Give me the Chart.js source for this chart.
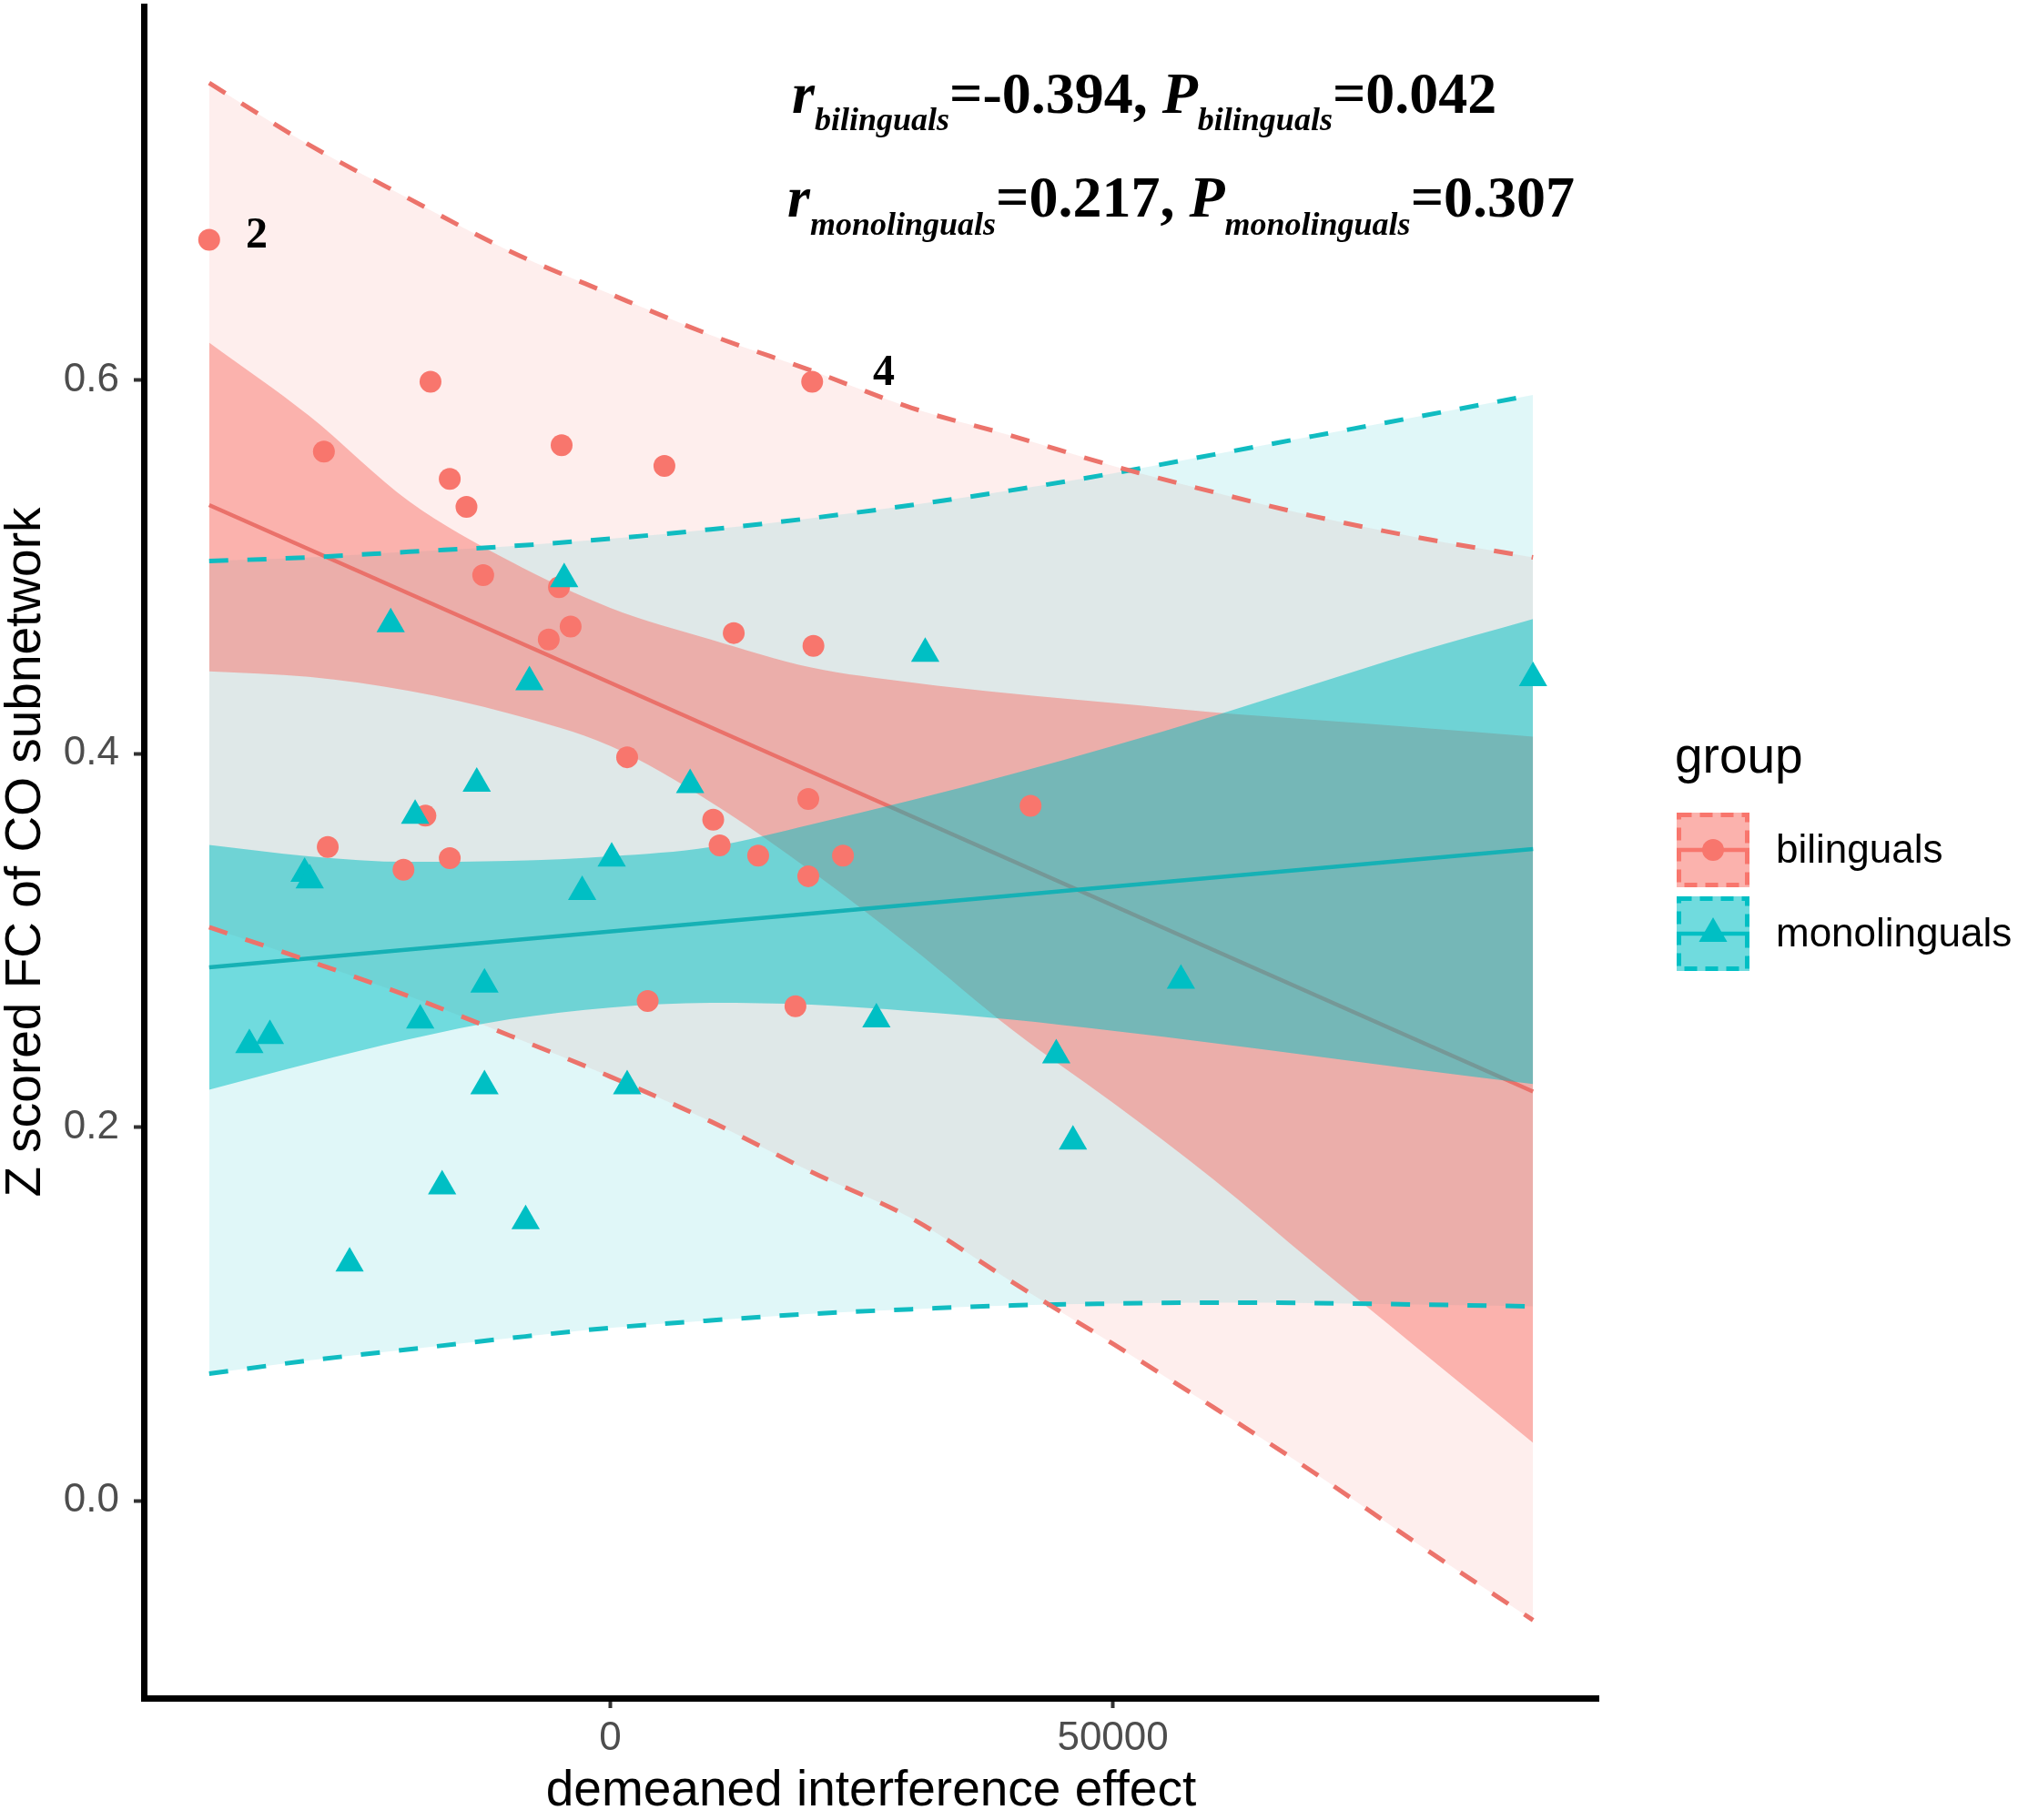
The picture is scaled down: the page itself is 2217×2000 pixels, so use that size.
<!DOCTYPE html>
<html>
<head>
<meta charset="utf-8">
<script src="https://cdn.jsdelivr.net/npm/chart.js@4.4.1/dist/chart.umd.min.js"></script>
<style>
html, body { margin: 0; padding: 0; background: #fff; }
canvas { display: block; }
</style>
</head>
<body>
<canvas id="fcChart" width="2217" height="2000"></canvas>
<script>
const xGrid = [-39900, -30000, -20000, -10000, 0, 10000, 20000, 30000, 40000, 50000, 60000, 70000, 80000, 91800];

// bilinguals: fit line, confidence band, prediction band (dashed)
const biFitX = [-39900, 91800];
const biFitY = [0.533, 0.219];
const biCiUpper = [0.620, 0.581, 0.535, 0.503, 0.478, 0.461, 0.446, 0.438, 0.432, 0.427, 0.422, 0.418, 0.414, 0.409];
const biCiLower = [0.444, 0.441, 0.4335, 0.4213, 0.404, 0.374, 0.337, 0.296, 0.252, 0.213, 0.172, 0.127, 0.083, 0.031];
const biPiUpper = [0.759, 0.726, 0.697, 0.669, 0.646, 0.624, 0.605, 0.585, 0.570, 0.554, 0.540, 0.527, 0.516, 0.505];
const biPiLower = [0.307, 0.289, 0.270, 0.249, 0.227, 0.203, 0.176, 0.151, 0.117, 0.084, 0.050, 0.015, -0.022, -0.064];

// monolinguals
const monoFitX = [-39900, 91800];
const monoFitY = [0.2855, 0.3488];
const monoCiUpper = [0.351, 0.345, 0.342, 0.3425, 0.345, 0.350, 0.362, 0.375, 0.389, 0.404, 0.420, 0.437, 0.454, 0.472];
const monoCiLower = [0.220, 0.234, 0.247, 0.2577, 0.264, 0.2665, 0.2655, 0.262, 0.2575, 0.2515, 0.245, 0.238, 0.231, 0.223];
const monoPiUpper = [0.503, 0.505, 0.508, 0.511, 0.515, 0.520, 0.526, 0.533, 0.541, 0.550, 0.560, 0.570, 0.580, 0.592];
const monoPiLower = [0.068, 0.075, 0.081, 0.087, 0.0925, 0.0965, 0.100, 0.1025, 0.1045, 0.1055, 0.106, 0.1058, 0.105, 0.104];

// subjects
const biX = [-39900, -17881, -28485, -4836, 5388, -15966, -14302, 20087, -12639, -5098, -3941, -6120, 12286, 20213,
             1681, 19700, 41816, -18388, 10244, -28103, 10884, 14717, 23152, -15966, -20568, 19700, 3724, 18424];
const biY = [0.675, 0.599, 0.5616, 0.565, 0.554, 0.547, 0.532, 0.599, 0.4955, 0.489, 0.468, 0.461, 0.4645, 0.4576,
             0.398, 0.3756, 0.372, 0.3667, 0.3646, 0.350, 0.3508, 0.3453, 0.3453, 0.344, 0.3378, 0.3343, 0.2675, 0.2647];
const monoX = [91800, -4583, -21841, 31333, -8037, -13280, 7946, -19409, 145, -30402, -29895, -2793, 56771,
               -12511, -18903, 26478, -35899, -33856, 44368, -12511, 1681, 46032, -16724, -8417, -25927];
const monoY = [0.4404, 0.4934, 0.4693, 0.4535, 0.4383, 0.3839, 0.3832, 0.3667, 0.3439, 0.3357, 0.3322, 0.326, 0.2785,
               0.2764, 0.2572, 0.2578, 0.244, 0.2489, 0.2385, 0.222, 0.222, 0.1924, 0.1683, 0.1497, 0.127];

const xTicks = [0, 50000];
const yTicks = [0.0, 0.2, 0.4, 0.6];

const RED = '#F8766D';
const TEAL = '#00BFC4';
const SANS = '"Liberation Sans", Arial, sans-serif';
const SERIF = '"Liberation Serif", "Times New Roman", serif';

const pts = (xs, ys) => xs.map((x, i) => ({ x: x, y: ys[i] }));

function band(ys, color, fill) {
    return {
        data: pts(xGrid, ys),
        pointRadius: 0,
        borderWidth: 0,
        borderColor: 'transparent',
        backgroundColor: color,
        cubicInterpolationMode: 'monotone',
        fill: fill
    };
}

function dashed(ys, color) {
    return {
        data: pts(xGrid, ys),
        pointRadius: 0,
        borderWidth: 5,
        borderColor: color,
        borderDash: [21, 21],
        cubicInterpolationMode: 'monotone',
        fill: false
    };
}

function fitLine(xs, ys, color) {
    return { data: pts(xs, ys), pointRadius: 0, borderWidth: 4.5, borderColor: color, fill: false };
}

// rich text: r with subscript, etc.
function drawRich(ctx, x, y, parts) {
    ctx.textAlign = 'left';
    ctx.textBaseline = 'alphabetic';
    ctx.fillStyle = '#000';
    parts.forEach(p => {
        ctx.font = p.font;
        ctx.fillText(p.t, x, y + (p.dy || 0));
        x += ctx.measureText(p.t).width;
    });
}

function drawKey(ctx, x, y, w, h, color, piFill, ciFill, style, radius) {
    ctx.save();
    ctx.fillStyle = piFill;
    ctx.fillRect(x, y, w, h);
    ctx.fillStyle = ciFill;
    ctx.fillRect(x, y, w, h);
    ctx.strokeStyle = color;
    ctx.lineWidth = 5;
    ctx.setLineDash([14, 9]);
    ctx.strokeRect(x + 2.5, y + 2.5, w - 5, h - 5);
    ctx.setLineDash([]);
    ctx.lineWidth = 4.5;
    ctx.beginPath();
    ctx.moveTo(x, y + h / 2);
    ctx.lineTo(x + w, y + h / 2);
    ctx.stroke();
    ctx.fillStyle = color;
    Chart.helpers.drawPoint(ctx, { pointStyle: style, radius: radius, rotation: 0, borderWidth: 0 }, x + w / 2, y + h / 2);
    ctx.restore();
}

const extras = {
    id: 'extras',
    afterDraw(chart) {
        const ctx = chart.ctx;
        ctx.save();
        const big = 'bold 64px ' + SERIF;
        const bigI = 'italic bold 64px ' + SERIF;
        const sub = 'italic bold 36px ' + SERIF;
        drawRich(ctx, 870, 124, [
            { t: 'r', font: bigI }, { t: 'bilinguals', font: sub, dy: 19 },
            { t: '=-0.394, ', font: big },
            { t: 'P', font: bigI }, { t: 'bilinguals', font: sub, dy: 19 },
            { t: '=0.042', font: big }
        ]);
        drawRich(ctx, 865, 238, [
            { t: 'r', font: bigI }, { t: 'monolinguals', font: sub, dy: 20 },
            { t: '=0.217, ', font: big },
            { t: 'P', font: bigI }, { t: 'monolinguals', font: sub, dy: 20 },
            { t: '=0.307', font: big }
        ]);
        ctx.font = 'bold 48px ' + SERIF;
        ctx.fillText('2', 270, 272);
        ctx.fillText('4', 959, 423);

        // legend
        ctx.fillStyle = '#000';
        ctx.font = '55px ' + SANS;
        ctx.fillText('group', 1840, 849);
        drawKey(ctx, 1842, 893, 80, 82, RED, 'rgba(248,118,109,0.12)', 'rgba(248,118,109,0.5)', 'circle', 12);
        drawKey(ctx, 1842, 985, 80, 82, TEAL, 'rgba(0,191,196,0.12)', 'rgba(0,191,196,0.5)', 'triangle', 18);
        ctx.fillStyle = '#000';
        ctx.font = '44px ' + SANS;
        ctx.textBaseline = 'middle';
        ctx.fillText('bilinguals', 1951, 936);
        ctx.fillText('monolinguals', 1951, 1028);
        ctx.restore();
    }
};

new Chart(document.getElementById('fcChart'), {
    type: 'line',
    data: {
        datasets: [
            { data: pts(monoX, monoY), showLine: false, pointStyle: 'triangle', pointRadius: 18,
              pointBackgroundColor: TEAL, pointBorderWidth: 0, pointBorderColor: 'transparent' },
            { data: pts(biX, biY), showLine: false, pointStyle: 'circle', pointRadius: 12,
              pointBackgroundColor: RED, pointBorderWidth: 0, pointBorderColor: 'transparent' },
            dashed(biPiUpper, '#EC736B'),
            dashed(biPiLower, '#EC736B'),
            dashed(monoPiUpper, '#10BCC1'),
            dashed(monoPiLower, '#10BCC1'),
            fitLine(monoFitX, monoFitY, '#16B1B5'),
            band(monoCiUpper, 'rgba(0,191,196,0.5)', '+1'),
            band(monoCiLower, 'transparent', false),
            fitLine(biFitX, biFitY, '#EA716A'),
            band(biCiUpper, 'rgba(248,118,109,0.5)', '+1'),
            band(biCiLower, 'transparent', false),
            band(monoPiUpper, 'rgba(0,191,196,0.12)', '+1'),
            band(monoPiLower, 'transparent', false),
            band(biPiUpper, 'rgba(248,118,109,0.12)', '+1'),
            band(biPiLower, 'transparent', false)
        ]
    },
    options: {
        responsive: false,
        devicePixelRatio: 1,
        animation: false,
        events: [],
        layout: { autoPadding: false, padding: { left: 0, right: 461, top: 7, bottom: 0 } },
        plugins: {
            legend: { display: false },
            tooltip: { enabled: false }
        },
        scales: {
            x: {
                type: 'linear',
                min: -46400,
                max: 98300,
                afterFit(scale) {
                    scale.height = 134;
                    scale.paddingLeft = 0;
                    scale.paddingRight = 0;
                },
                afterBuildTicks(scale) { scale.ticks = xTicks.map(v => ({ value: v })); },
                grid: { display: true, drawOnChartArea: false, drawTicks: true, tickLength: 11, tickWidth: 4, tickColor: '#333333' },
                border: { display: true, color: '#000', width: 7 },
                ticks: {
                    padding: 7,
                    color: '#4D4D4D',
                    font: { family: SANS, size: 44 },
                    callback: v => String(v)
                },
                title: {
                    display: true,
                    text: 'demeaned interference effect',
                    color: '#000',
                    font: { family: SANS, size: 55, lineHeight: 1 },
                    padding: { top: 0, bottom: 4 }
                }
            },
            y: {
                type: 'linear',
                min: -0.1057,
                max: 0.800,
                afterFit(scale) {
                    scale.width = 158;
                    scale.paddingTop = 0;
                    scale.paddingBottom = 0;
                },
                afterBuildTicks(scale) { scale.ticks = yTicks.map(v => ({ value: v })); },
                grid: { display: true, drawOnChartArea: false, drawTicks: true, tickLength: 11, tickWidth: 4, tickColor: '#333333' },
                border: { display: true, color: '#000', width: 7 },
                ticks: {
                    padding: 16,
                    color: '#4D4D4D',
                    font: { family: SANS, size: 44 },
                    callback: v => v.toFixed(1)
                },
                title: {
                    display: true,
                    text: 'Z scored FC of CO subnetwork',
                    color: '#000',
                    font: { family: SANS, size: 55, lineHeight: 1 },
                    padding: { top: 1, bottom: 0 }
                }
            }
        }
    },
    plugins: [extras]
});
</script>
</body>
</html>
